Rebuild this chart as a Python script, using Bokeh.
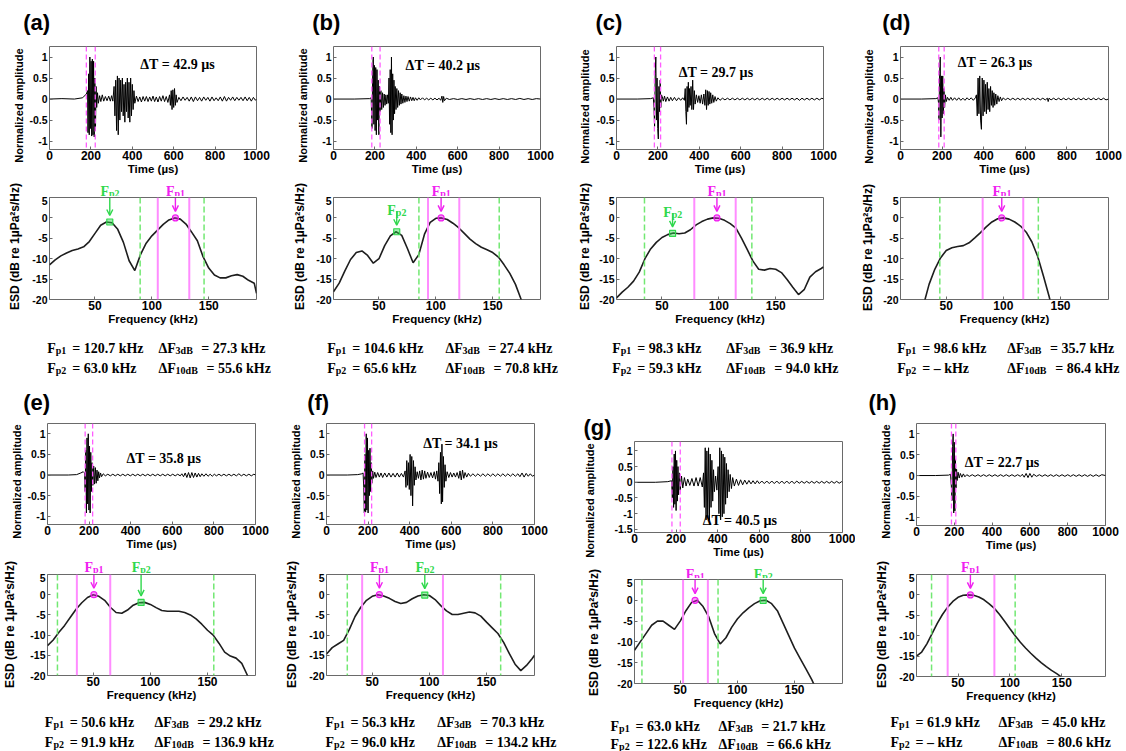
from bokeh.plotting import figure
from bokeh.layouts import row, column
from bokeh.models import Label, Arrow, OpenHead, Span, FixedTicker, Range1d
from bokeh.embed import file_html
from bokeh.resources import INLINE

SANS = "Liberation Sans"
SERIF = "Liberation Serif"
MAG = "#f020f0"
MAG_SPAN = "#ff8cff"
MAG_DASH = "#ff5cff"
GRN = "#2fd84c"
GRN_SPAN = "#72e872"
FRAME = "#6a6a6a"

# ---------------- data ----------------
TIME_TICKS = [0, 200, 400, 600, 800, 1000]
AMP_TICKS = [-1, -0.5, 0, 0.5, 1]
AMP_TICKS_G = [-1.5, -1, -0.5, 0, 0.5, 1]
FREQ_TICKS = [50, 100, 150]
ESD_TICKS = [-20, -15, -10, -5, 0, 5]

FREQ = [10, 15, 20, 25, 30, 35, 40, 45, 50, 55, 60, 65, 70, 75, 80, 85, 90, 95, 100,
        105, 110, 115, 120, 125, 130, 135, 140, 145, 150, 155, 160, 165, 170, 175, 180,
        185, 190, 192]

ESD_A = [-11.5, -10.3, -9.3, -8.6, -8.0, -7.6, -7.1, -5.8, -3.8, -1.8, -1.0, -1.2, -2.8,
         -6.0, -10.5, -12.9, -9.0, -6.2, -4.4, -3.0, -1.6, -0.5, 0.0, -0.3, -1.5, -3.5,
         -5.6, -9.5, -12.3, -14.0, -14.7, -14.7, -14.2, -13.9, -14.3, -15.3, -16.0, -18.5]
ESD_B = [-18.1, -16.0, -13.0, -10.2, -8.5, -8.1, -9.2, -11.1, -10.0, -6.8, -4.4, -3.4, -4.3,
         -7.5, -11.0, -9.0, -4.0, -1.1, -0.1, 0.0, -0.4, -1.3, -2.4, -3.8, -5.2, -6.3,
         -7.2, -7.8, -8.5, -9.6, -11.5, -13.6, -16.3, -20.0, -23.0, -26.0, -29.0, -30.0]
ESD_C = [-19.6, -18.2, -17.0, -15.5, -13.3, -10.0, -7.6, -6.0, -4.8, -4.1, -3.7, -3.9, -3.7,
         -2.9, -1.7, -0.9, -0.3, 0.0, -0.1, -0.6, -1.4, -2.5, -5.0, -7.8, -10.6, -12.6,
         -12.8, -12.4, -12.6, -13.4, -15.1, -17.0, -18.8, -17.6, -14.5, -13.2, -12.4, -12.0]
ESD_D = [-45.0, -38.0, -32.0, -27.0, -21.5, -16.3, -12.6, -9.8, -8.0, -7.3, -7.0, -6.8, -6.1,
         -4.9, -3.6, -2.2, -1.0, -0.2, 0.0, -0.3, -1.0, -2.0, -3.5, -5.9, -9.4, -14.2,
         -19.2, -25.0, -31.0, -37.0, -43.0, -48.0, -52.0, -55.0, -58.0, -60.0, -62.0, -63.0]
ESD_E = [-12.6, -11.2, -9.3, -7.6, -5.6, -3.6, -2.0, -0.7, 0.0, -0.4, -1.4, -3.1, -4.4,
         -4.6, -3.8, -2.6, -2.0, -1.9, -2.4, -3.2, -3.9, -4.1, -4.1, -4.1, -4.4, -5.0,
         -6.0, -7.3, -8.8, -10.0, -12.0, -14.2, -15.2, -15.7, -17.0, -20.0, -24.0, -26.0]
ESD_F = [-14.7, -13.1, -12.2, -11.3, -8.6, -5.4, -3.1, -1.4, -0.4, 0.0, -0.3, -0.9, -1.7,
         -2.2, -1.9, -1.0, -0.3, 0.0, -0.2, -1.2, -2.7, -4.0, -4.9, -4.9, -4.6, -4.3,
         -4.5, -5.3, -6.8, -8.2, -9.6, -11.8, -14.6, -17.2, -18.8, -17.5, -15.8, -15.0]
ESD_G = [-12.0, -10.0, -8.0, -6.0, -5.0, -5.0, -6.0, -7.0, -5.0, -2.5, -0.5, 0.0, -1.5,
         -4.0, -8.0, -10.5, -9.0, -6.5, -4.5, -3.0, -1.8, -0.8, -0.1, 0.0, -0.8, -2.5,
         -5.5, -8.5, -11.5, -14.0, -16.5, -19.0, -22.0, -25.0, -28.0, -31.0, -34.0, -35.0]
ESD_H = [-15.0, -14.0, -12.0, -9.5, -7.0, -4.8, -3.0, -1.6, -0.6, -0.1, 0.0, -0.1, -0.5,
         -1.2, -2.2, -3.3, -4.8, -6.5, -8.3, -10.0, -11.6, -13.0, -14.3, -15.5, -16.6,
         -17.6, -18.5, -19.3, -20.2, -21.0, -22.0, -23.0, -24.0, -25.0, -26.0, -27.0, -28.0, -28.5]

WAVE_A = [(0, 0), (60, 0.01), (120, 0), (160, 0.03), (178, 0.12), (184, 0.2), (186, -0.8), (189, 0.6),
          (192, -0.85), (195, 1.0), (198, -0.7), (201, 0.9), (204, -0.88), (207, 0.95), (210, -0.85),
          (213, 0.9), (216, -0.9), (219, 0.5), (222, -0.75), (225, 0.3), (228, -0.2), (232, 0.15),
          (236, -0.1), (242, 0.08), (248, -0.06), (255, 0.1), (262, -0.05), (270, 0.06), (278, -0.04),
          (286, 0.07), (294, -0.05), (300, 0.08), (306, -0.05), (312, 0.3), (316, -0.4), (320, 0.45),
          (324, -0.75), (328, 0.55), (332, -0.85), (336, 0.5), (340, -0.5), (344, 0.45), (348, -0.3),
          (352, 0.5), (356, -0.4), (360, 0.35), (364, -0.55), (368, 0.4), (372, -0.3), (376, 0.5),
          (380, -0.45), (384, 0.4), (388, -0.55), (392, 0.5), (396, -0.4), (400, 0.35), (404, -0.25),
          (408, 0.2), (412, -0.1), (420, 0.07), (428, -0.06), (436, 0.05), (444, -0.07), (452, 0.06),
          (460, -0.05), (468, 0.06), (476, -0.06), (484, 0.05), (492, -0.05), (500, 0.07), (508, -0.06),
          (516, 0.05), (524, -0.07), (532, 0.06), (540, -0.05), (548, 0.08), (556, -0.06), (564, 0.06),
          (572, -0.08), (580, 0.1), (584, -0.15), (588, 0.2), (592, -0.25), (596, 0.22), (600, -0.2),
          (604, 0.25), (608, -0.15), (612, 0.1), (616, -0.08), (625, 0.04), (635, -0.04), (645, 0.05),
          (655, -0.03), (665, 0.04), (675, -0.05), (685, 0.05), (695, -0.06), (705, 0.05), (715, -0.04),
          (725, 0.04), (735, -0.05), (745, 0.05), (755, -0.03), (765, 0.04), (775, -0.05), (785, 0.05),
          (795, -0.04), (805, 0.03), (815, -0.04), (825, 0.05), (835, -0.05), (845, 0.06), (855, -0.05),
          (865, 0.04), (875, -0.03), (885, 0.05), (895, -0.04), (905, 0.04), (915, -0.03), (925, 0.04),
          (935, -0.04), (945, 0.05), (955, -0.04), (965, 0.04), (975, -0.05), (985, 0.04), (995, -0.03),
          (1000, 0)]
WAVE_B = [(0, 0), (100, 0), (175, 0.01), (182, 0.03), (186, -0.7), (189, 0.5), (192, 1.0), (195, -0.6),
          (198, 0.8), (201, -0.75), (204, 0.75), (207, -0.85), (210, 0.7), (213, -0.5), (216, 0.45),
          (219, -0.85), (222, 0.3), (225, -0.3), (229, 0.2), (233, -0.25), (237, 0.15), (241, -0.2),
          (245, 0.12), (249, -0.15), (253, 0.1), (257, -0.12), (261, 0.1), (265, -0.1), (268, 0.5),
          (271, -0.6), (274, 0.7), (277, -0.8), (280, 1.0), (283, -0.85), (286, 0.6), (289, -0.5),
          (292, 0.45), (295, -0.35), (298, 0.3), (302, -0.25), (306, 0.25), (310, -0.2), (314, 0.2),
          (318, -0.15), (322, 0.15), (326, -0.12), (330, 0.12), (335, -0.1), (340, 0.08), (345, -0.08),
          (350, 0.07), (355, -0.06), (360, 0.06), (366, -0.05), (372, 0.05), (378, -0.04), (384, 0.04),
          (390, -0.04), (396, 0.03), (404, -0.03), (412, 0.03), (420, -0.02), (430, 0.03), (440, -0.02),
          (450, 0.02), (460, -0.02), (470, 0.02), (480, -0.02), (490, 0.02), (500, -0.02), (510, 0.02),
          (518, -0.03), (524, 0.07), (528, -0.08), (532, 0.06), (536, -0.04), (545, 0.02), (560, -0.01),
          (580, 0.01), (600, -0.01), (620, 0.01), (640, -0.01), (660, 0.01), (680, -0.01), (700, 0.01),
          (720, -0.01), (740, 0.01), (760, -0.01), (780, 0.01), (800, -0.01), (820, 0.01), (840, -0.01),
          (860, 0.01), (880, -0.01), (900, 0.015), (920, -0.01), (940, 0.01), (960, -0.01), (980, 0.01),
          (1000, 0)]
WAVE_C = [(0, 0), (100, 0), (165, 0.01), (178, 0.03), (181, -0.2), (184, -0.65), (187, 0.6), (190, 1.0),
          (193, -0.5), (196, 0.5), (199, -0.7), (202, -0.95), (205, 0.3), (208, -0.3), (211, 0.45),
          (214, -0.2), (217, 0.1), (221, 0.06), (226, -0.05), (232, 0.07), (238, -0.06), (246, 0.05),
          (254, -0.05), (262, 0.04), (270, -0.04), (280, 0.04), (290, -0.04), (300, 0.03), (310, -0.03),
          (320, 0.03), (328, -0.03), (332, 0.25), (335, -0.3), (338, -0.6), (341, 0.3), (344, -0.3),
          (347, 0.4), (350, -0.2), (353, 0.25), (356, -0.15), (360, 0.3), (364, -0.25), (368, 0.45),
          (372, -0.25), (376, 0.2), (380, -0.12), (386, 0.1), (392, -0.08), (398, 0.08), (404, -0.1),
          (410, 0.1), (416, -0.12), (422, 0.12), (427, -0.15), (431, 0.22), (435, -0.25), (439, 0.2),
          (443, -0.15), (447, 0.18), (451, -0.12), (455, 0.15), (460, -0.1), (465, 0.1), (470, -0.08),
          (476, 0.06), (482, -0.05), (490, 0.03), (500, -0.03), (512, 0.02), (524, -0.02), (536, 0.02),
          (548, -0.02), (560, 0.02), (572, -0.02), (584, 0.02), (596, -0.02), (608, 0.02), (620, -0.02),
          (632, 0.02), (644, -0.02), (656, 0.02), (668, -0.02), (680, 0.02), (692, -0.02), (704, 0.02),
          (716, -0.02), (728, 0.02), (740, -0.02), (752, 0.02), (764, -0.02), (776, 0.02), (788, -0.02),
          (800, 0.02), (812, -0.02), (824, 0.02), (836, -0.02), (848, 0.02), (860, -0.02), (872, 0.02),
          (884, -0.03), (896, 0.02), (908, -0.02), (920, 0.02), (932, -0.02), (944, 0.02), (956, -0.02),
          (968, 0.02), (980, -0.02), (992, 0.02), (1000, 0)]
WAVE_D = [(0, 0), (100, 0), (170, 0.01), (180, 0.03), (183, -0.1), (185, -0.5), (188, 0.6), (191, 1.0),
          (194, -0.9), (197, 0.55), (200, -0.45), (203, 0.55), (206, -0.35), (209, 0.25), (212, -0.2),
          (216, 0.1), (220, -0.06), (226, 0.04), (234, -0.03), (242, 0.04), (250, -0.03), (260, 0.03),
          (270, -0.03), (280, 0.03), (290, -0.03), (300, 0.02), (310, -0.03), (320, 0.03), (330, -0.02),
          (340, 0.03), (350, -0.03), (360, 0.03), (365, 0.1), (369, -0.4), (373, 0.5), (377, -0.35),
          (381, 0.55), (385, -0.5), (389, -0.72), (393, 0.5), (397, -0.4), (401, 0.45), (405, -0.3),
          (409, 0.35), (413, -0.35), (417, 0.4), (421, -0.25), (425, 0.25), (429, -0.3), (433, 0.3),
          (437, -0.15), (441, 0.2), (445, -0.2), (449, 0.15), (453, -0.15), (458, 0.12), (463, -0.12),
          (468, 0.08), (474, -0.06), (480, 0.05), (486, -0.04), (494, 0.03), (504, -0.02), (516, 0.02),
          (528, -0.02), (540, 0.02), (552, -0.02), (564, 0.02), (576, -0.02), (588, 0.02), (600, -0.02),
          (612, 0.02), (624, -0.02), (636, 0.02), (648, -0.02), (660, 0.02), (672, -0.02), (684, 0.02),
          (696, -0.02), (706, 0.02), (710, -0.06), (714, 0.02), (724, -0.02), (736, 0.02), (748, -0.02),
          (760, 0.02), (772, -0.02), (784, 0.02), (796, -0.02), (808, 0.02), (820, -0.02), (832, 0.02),
          (844, -0.02), (856, 0.02), (868, -0.02), (880, 0.02), (892, -0.02), (904, 0.02), (916, -0.02),
          (928, 0.02), (940, -0.02), (952, 0.02), (964, -0.02), (976, 0.02), (988, -0.02), (1000, 0)]
WAVE_E = [(0, 0), (100, 0), (140, 0.01), (160, 0.05), (172, 0.08), (178, 0.05), (181, -0.4), (184, 0.6),
          (187, -0.92), (190, 0.9), (193, -0.7), (196, 1.0), (199, -0.85), (202, 0.7), (205, -0.92),
          (208, 0.55), (211, -0.4), (214, 0.3), (218, -0.25), (222, 0.22), (226, -0.22), (230, 0.18),
          (234, -0.2), (238, 0.12), (242, -0.14), (246, 0.08), (250, -0.07), (255, 0.05), (260, -0.04),
          (268, 0.03), (278, -0.02), (290, 0.02), (302, -0.02), (314, 0.02), (326, -0.02), (338, 0.02),
          (350, -0.02), (362, 0.02), (374, -0.02), (386, 0.02), (398, -0.02), (410, 0.02), (422, -0.02),
          (434, 0.02), (446, -0.02), (458, 0.02), (470, -0.02), (482, 0.02), (494, -0.02), (506, 0.02),
          (518, -0.02), (530, 0.02), (542, -0.02), (554, 0.02), (566, -0.02), (578, 0.02), (590, -0.02),
          (602, 0.02), (614, -0.02), (626, 0.02), (638, -0.02), (646, 0.03), (654, -0.04), (662, 0.05),
          (670, -0.06), (678, 0.06), (686, -0.07), (694, 0.06), (702, -0.06), (710, 0.05), (718, -0.05),
          (726, 0.04), (734, -0.04), (742, 0.03), (752, -0.03), (762, 0.03), (772, -0.03), (782, 0.02),
          (792, -0.03), (802, 0.02), (812, -0.02), (824, 0.02), (836, -0.02), (848, 0.02), (860, -0.02),
          (872, 0.02), (884, -0.02), (896, 0.02), (908, -0.02), (920, 0.03), (932, -0.02), (944, 0.02),
          (956, -0.02), (968, 0.02), (980, -0.02), (992, 0.02), (1000, 0)]
WAVE_F = [(0, 0), (100, 0), (150, 0.01), (170, 0.03), (176, 0.05), (179, -0.3), (182, -0.92), (185, 0.5),
          (188, -0.9), (191, 1.0), (194, -0.85), (197, 0.9), (200, -0.92), (203, 0.6), (206, -0.5),
          (209, 0.65), (212, -0.4), (215, 0.3), (218, -0.2), (222, 0.1), (226, -0.08), (232, 0.07),
          (238, -0.06), (246, 0.06), (254, -0.05), (262, 0.05), (270, -0.06), (280, 0.05), (290, -0.05),
          (300, 0.05), (310, -0.05), (320, 0.04), (330, -0.05), (340, 0.05), (350, -0.05), (360, 0.04),
          (370, -0.05), (378, 0.1), (382, -0.3), (386, 0.35), (390, -0.25), (394, 0.3), (398, -0.35),
          (402, 0.5), (406, -0.5), (410, 0.45), (414, -0.75), (418, 0.35), (422, -0.25), (426, 0.2),
          (430, -0.12), (436, 0.08), (442, -0.08), (448, 0.1), (454, -0.12), (460, 0.12), (466, -0.1),
          (472, 0.1), (478, -0.08), (486, 0.07), (494, -0.06), (502, 0.06), (510, -0.07), (518, 0.08),
          (524, -0.1), (530, 0.1), (536, -0.15), (540, 0.3), (544, -0.45), (548, 0.55), (552, -0.7),
          (555, 0.75), (558, -0.65), (562, 0.45), (566, -0.3), (570, 0.25), (574, -0.15), (580, 0.08),
          (588, -0.06), (596, 0.06), (604, -0.05), (612, 0.05), (620, -0.05), (628, 0.06), (636, -0.08),
          (642, 0.1), (648, -0.12), (654, 0.12), (660, -0.08), (666, 0.06), (674, -0.05), (682, 0.04),
          (692, -0.03), (704, 0.03), (716, -0.03), (728, 0.03), (740, -0.03), (752, 0.03), (764, -0.03),
          (776, 0.03), (788, -0.03), (800, 0.03), (812, -0.03), (824, 0.03), (836, -0.03), (848, 0.03),
          (860, -0.03), (872, 0.03), (884, -0.03), (896, 0.03), (908, -0.03), (920, 0.03), (930, -0.04),
          (940, 0.05), (950, -0.05), (960, 0.04), (970, -0.03), (980, 0.03), (990, -0.03), (1000, 0)]
WAVE_G = [(0, 0), (100, 0), (160, 0.02), (178, 0.05), (182, -0.5), (185, 0.5), (188, -0.8), (191, 0.9),
          (194, -0.7), (197, 1.0), (200, -0.9), (203, 0.7), (206, -0.6), (209, 0.5), (212, -0.4),
          (216, 0.3), (220, -0.25), (226, 0.2), (232, -0.18), (240, 0.15), (248, -0.12), (256, 0.1),
          (266, -0.1), (276, 0.12), (286, -0.12), (296, 0.15), (306, -0.12), (316, 0.15), (326, -0.15),
          (332, 0.3), (336, -0.8), (340, 1.1), (344, -1.2), (348, 1.0), (352, -1.1), (356, 1.1),
          (360, -1.2), (364, 0.9), (368, -0.8), (372, 0.7), (376, -0.6), (380, 0.4), (384, -0.3),
          (390, 0.2), (396, -0.25), (402, 0.5), (406, -1.0), (410, 1.1), (414, -1.2), (418, 1.0),
          (422, -1.1), (426, 0.9), (430, -1.0), (434, 0.8), (438, -0.7), (442, 0.6), (446, -0.5),
          (450, 0.4), (455, -0.3), (460, 0.25), (466, -0.2), (472, 0.15), (480, -0.12), (490, 0.1),
          (500, -0.1), (510, 0.08), (520, -0.08), (530, 0.07), (540, -0.06), (550, 0.06), (560, -0.05),
          (570, 0.05), (580, -0.05), (590, 0.05), (600, -0.04), (612, 0.04), (624, -0.04), (636, 0.04),
          (648, -0.04), (660, 0.04), (672, -0.04), (684, 0.04), (696, -0.04), (708, 0.04), (720, -0.04),
          (732, 0.04), (744, -0.04), (756, 0.04), (768, -0.04), (780, 0.04), (792, -0.03), (804, 0.03),
          (816, -0.03), (828, 0.03), (840, -0.03), (852, 0.03), (864, -0.03), (876, 0.03), (888, -0.03),
          (900, 0.03), (912, -0.03), (924, 0.03), (936, -0.03), (948, 0.03), (960, -0.03), (972, 0.03),
          (984, -0.03), (996, 0.02), (1000, 0)]
WAVE_H = [(0, 0), (100, 0), (170, 0.01), (180, 0.03), (185, -0.3), (188, -0.6), (191, 0.7), (194, 1.0),
          (197, -0.9), (200, 0.8), (203, -0.85), (206, 0.4), (209, -0.3), (212, 0.15), (215, -0.12),
          (220, 0.08), (226, -0.06), (232, 0.05), (240, -0.04), (248, 0.04), (256, -0.03), (266, 0.02),
          (280, -0.02), (295, 0.02), (310, -0.02), (325, 0.02), (340, -0.02), (355, 0.02), (370, -0.02),
          (385, 0.02), (400, -0.02), (415, 0.02), (430, -0.02), (445, 0.02), (460, -0.02), (475, 0.02),
          (490, -0.02), (505, 0.02), (520, -0.02), (535, 0.02), (550, -0.02), (560, 0.03), (570, -0.04),
          (580, 0.05), (590, -0.05), (600, 0.05), (610, -0.04), (620, 0.03), (635, -0.02), (650, 0.02),
          (665, -0.02), (680, 0.02), (695, -0.02), (710, 0.02), (725, -0.02), (740, 0.02), (755, -0.02),
          (770, 0.02), (785, -0.02), (800, 0.02), (815, -0.02), (830, 0.02), (845, -0.02), (860, 0.02),
          (875, -0.02), (890, 0.02), (905, -0.02), (920, 0.02), (935, -0.02), (950, 0.02), (965, -0.02),
          (980, 0.02), (1000, 0)]

ESD = {"a": ESD_A, "b": ESD_B, "c": ESD_C, "d": ESD_D, "e": ESD_E, "f": ESD_F, "g": ESD_G, "h": ESD_H}
WAVE = {"a": WAVE_A, "b": WAVE_B, "c": WAVE_C, "d": WAVE_D, "e": WAVE_E, "f": WAVE_F, "g": WAVE_G, "h": WAVE_H}

FP1 = {"a": (120.7, 0.0), "b": (104.6, 0.0), "c": (98.3, 0.0), "d": (98.6, 0.0),
       "e": (50.6, 0.0), "f": (56.3, 0.0), "g": (63.0, 0.0), "h": (61.9, 0.0)}
FP2 = {"a": (63.0, -1.0), "b": (65.6, -3.4), "c": (59.3, -3.8), "d": None,
       "e": (91.9, -1.9), "f": (96.0, -0.1), "g": (122.6, 0.0), "h": None}
BW3_LINES = {"a": (105.2, 132.9), "b": (93.1, 120.6), "c": (78.4, 114.8), "d": (81.9, 117.4),
             "e": (35.7, 64.9), "f": (41.2, 111.9), "g": (52.5, 74.2), "h": (40.0, 85.0)}
BW10_LINES = {"a": (89.7, 145.9), "b": (85.1, 155.7), "c": (34.6, 129.0), "d": (44.4, 130.6),
              "e": (18.7, 155.5), "f": (28.2, 162.4), "g": (16.5, 83.1), "h": (24.5, 105.0)}
DT_LINES = {"a": (178, 221), "b": (185, 225), "c": (183, 213), "d": (184, 210),
            "e": (181, 217), "f": (183, 217), "g": (180, 220), "h": (185, 208)}
TXT_DT = {"a": "42.9", "b": "40.2", "c": "29.7", "d": "26.3", "e": "35.8", "f": "34.1", "g": "40.5", "h": "22.7"}
TXT_FP1 = {"a": "120.7", "b": "104.6", "c": "98.3", "d": "98.6", "e": "50.6", "f": "56.3", "g": "63.0", "h": "61.9"}
TXT_FP2 = {"a": "63.0", "b": "65.6", "c": "59.3", "d": "\u2013", "e": "91.9", "f": "96.0", "g": "122.6", "h": "\u2013"}
TXT_3DB = {"a": "27.3", "b": "27.4", "c": "36.9", "d": "35.7", "e": "29.2", "f": "70.3", "g": "21.7", "h": "45.0"}
TXT_10DB = {"a": "55.6", "b": "70.8", "c": "94.0", "d": "86.4", "e": "136.9", "f": "134.2", "g": "66.6", "h": "80.6"}

# ---------------- layout (screen pixels, page origin at top-left) ----------------
COLS = {"a": (0, 280), "b": (280, 280), "c": (560, 280), "d": (840, 286),
        "e": (0, 280), "f": (280, 280), "g": (560, 295), "h": (855, 271)}
# column bands: top, tag-strip end, wave-fig end, peak-strip end, esd-fig end, bottom
BANDS = {"a": (0, 38, 178, 196, 330, 376), "b": (0, 38, 178, 196, 330, 376),
         "c": (0, 38, 178, 196, 330, 376), "d": (0, 38, 178, 196, 330, 376),
         "e": (376, 417, 554, 573, 706, 751), "f": (376, 417, 554, 573, 706, 751),
         "g": (376, 440, 561, 578, 713, 751), "h": (376, 417, 554, 573, 706, 751)}
FRAME_X = {"a": (46, 256), "b": (330, 540), "c": (613, 823), "d": (897, 1108),
           "e": (44, 255), "f": (323, 534), "g": (631, 842), "h": (913, 1105)}
WAVE_Y = {"a": (46, 149), "b": (46, 149), "c": (46, 149), "d": (46, 149),
          "e": (423, 524), "f": (423, 524), "g": (441, 532), "h": (423, 525)}
ESD_Y = {"a": (197, 299), "b": (197, 299), "c": (197, 299), "d": (197, 299),
         "e": (574, 675), "f": (574, 675), "g": (579, 683), "h": (574, 676)}
WAVE_YR = {k: (-1.2, 1.25) for k in "abcdefh"}
WAVE_YR["g"] = (-1.6, 1.3)
TAG_XY = {"a": (22.7, 22), "b": (311.7, 22), "c": (595, 22), "d": (881.7, 22),
          "e": (22.7, 402), "f": (306.7, 402), "g": (583, 427), "h": (868, 402)}
DT_XY = {"a": (176, 64), "b": (441, 65), "c": (714, 72), "d": (993, 62),
         "e": (162, 458), "f": (459, 443), "g": (738, 520), "h": (1000, 462)}
LINE_X = {"a": (46.7, 158), "b": (326.7, 445), "c": (611.7, 725.7), "d": (896.7, 1006.7),
          "e": (44.3, 154), "f": (325, 436.7), "g": (610, 718), "h": (890, 998)}
LINE_Y = {"a": (343, 363), "b": (343, 363), "c": (343, 363), "d": (343, 363),
          "e": (717, 737), "f": (717, 737), "g": (721, 739), "h": (717, 737)}
# y-axis title centres (screen px): wave (x, y), esd (x, y)
YLAB_XY = {"a": ((18, 105), (14, 246)), "b": ((302, 105), (299, 246)),
           "c": ((584, 106), (584, 246)), "d": ((868, 106), (867, 247)),
           "e": ((16, 481), (9, 624)), "f": ((295, 481), (291, 624)),
           "g": ((589, 500), (593, 632)), "h": ((885, 481), (881, 624))}
# vertical centre (screen px) of each peak caption
FPLAB_Y = {"a": (186.5, 186.5), "b": (186.5, 205), "c": (186.5, 207), "d": (186.5, None),
           "e": (562.5, 562.5), "f": (562.5, 562.5), "g": (569.5, 569.5), "h": (562.5, None)}
FX = (10, 192)
FY = (-20, 5)


def fmt(t):
    return "%g" % t


def make_conv(L, R, T, B, xr, yr):
    def conv(sx, sy):
        return (xr[0] + (sx - L) * (xr[1] - xr[0]) / (R - L),
                yr[1] - (sy - T) * (yr[1] - yr[0]) / (B - T))
    return conv


def ident(sx, sy):
    return sx, sy


def new_fig(x0, x1, top, bottom, L, R, T, B, xr, yr):
    p = figure(width=x1 - x0, height=bottom - top, x_range=Range1d(*xr), y_range=Range1d(*yr),
               output_backend="svg", toolbar_location=None,
               min_border_left=L - x0, min_border_right=x1 - R,
               min_border_top=T - top, min_border_bottom=bottom - B)
    p.xgrid.visible = False
    p.ygrid.visible = False
    p.outline_line_color = FRAME
    p.outline_line_width = 1
    p.background_fill_color = "white"
    p.border_fill_color = "white"
    return p


def strip(x0, x1, top, bottom, xr=None, bl=0, br=0):
    p = figure(width=x1 - x0, height=bottom - top,
               x_range=Range1d(*(xr if xr else (x0, x1))), y_range=Range1d(bottom, top),
               x_axis_type=None, y_axis_type=None, min_border_left=bl, min_border_right=br,
               min_border_top=0, min_border_bottom=0,
               output_backend="svg", toolbar_location=None)
    p.outline_line_color = None
    p.background_fill_color = "white"
    p.border_fill_color = "white"
    return p


def style_axes(p, xticks, yticks, xlabel):
    p.xaxis.ticker = FixedTicker(ticks=xticks)
    p.yaxis.ticker = FixedTicker(ticks=yticks)
    p.xaxis.major_label_overrides = {t: fmt(t) for t in xticks}
    p.yaxis.major_label_overrides = {t: fmt(t) for t in yticks}
    p.xaxis.axis_label = xlabel
    for ax in list(p.xaxis) + list(p.yaxis):
        ax.axis_line_color = None
        ax.major_tick_in = 3
        ax.major_tick_out = 0
        ax.major_tick_line_color = FRAME
        ax.minor_tick_line_color = None
        ax.major_label_text_font = SANS
        ax.major_label_text_font_style = "bold"
        ax.major_label_text_color = "black"
        ax.axis_label_text_font = SANS
        ax.axis_label_text_font_style = "bold"
        ax.axis_label_text_font_size = "11.5px"
        ax.axis_label_text_color = "black"
    p.xaxis.major_label_text_font_size = "12px"
    p.yaxis.major_label_text_font_size = "10.5px"
    p.xaxis.major_label_standoff = 1
    p.xaxis.axis_label_standoff = 0
    p.yaxis.major_label_standoff = 2


def label(p, x, y, text, size, color="black", font=SERIF, align="left",
          baseline="alphabetic", angle=0):
    p.add_layout(Label(x=x, y=y, text=text, text_font=font, angle=angle, angle_units="deg",
                       text_font_size="%gpx" % size, text_font_style="bold",
                       text_color=color, text_align=align, text_baseline=baseline))


def rich(p, conv, sx, sy, head, sub, subx, tail="", tailx=0, color="black"):
    # sy = vertical centre of the text line (screen px)
    base = sy + 4.5
    x, y = conv(sx, base)
    label(p, x, y, head, 14, color)
    x, y = conv(sx + subx, base + 2.0)
    label(p, x, y, sub, 10, color)
    if tail:
        x, y = conv(sx + tailx, base)
        label(p, x, y, tail, 14, color)


def peak(pe, ps, econv, sconv, L, R, T, fp, name, color, marker, lab_y):
    f, v = fp
    px = L + (f - FX[0]) * (R - L) / (FX[1] - FX[0])
    if lab_y < T:
        rich(ps, sconv, px - 9.5, lab_y, "F", name, 8.6, color=color)
        y_start = 4.9
    else:
        rich(pe, econv, px - 9.5, lab_y, "F", name, 8.6, color=color)
        y_start = v + 5.0
    pe.add_layout(Arrow(end=OpenHead(size=6, line_color=color, line_width=1.4),
                        x_start=f, y_start=y_start, x_end=f, y_end=v + 1.6,
                        line_color=color, line_width=1.4))
    pe.scatter([f], [v], marker=marker, size=6, line_color=color, fill_color=color,
               fill_alpha=0.45, line_width=1.2)


def panel(k):
    colx, colw = COLS[k]
    right = colx + colw
    top, tag_end, wave_end, pk_end, esd_end, bottom = BANDS[k]
    L, R = FRAME_X[k]
    wT, wB = WAVE_Y[k]
    eT, eB = ESD_Y[k]
    sr = L - 20
    wyr = WAVE_YR[k]
    wxr = (0, 1000)
    (wlx, wly), (elx, ely) = YLAB_XY[k]

    # ---- tag strip ----
    pt = strip(colx, right, top, tag_end)
    label(pt, TAG_XY[k][0], TAG_XY[k][1], "(%s)" % k, 22, font=SANS, baseline="middle")

    # ---- y-axis titles strip ----
    ls = strip(colx, sr, tag_end, esd_end)
    label(ls, wlx, wly, "Normalized amplitude", 11, font=SANS, align="center",
          baseline="middle", angle=90)
    label(ls, elx, ely, "ESD (dB re 1\u00b5Pa\u00b2s/Hz)", 12, font=SANS, align="center",
          baseline="middle", angle=90)

    # ---- waveform ----
    pw = new_fig(sr, right, tag_end, wave_end, L, R, wT, wB, wxr, wyr)
    style_axes(pw, TIME_TICKS, AMP_TICKS_G if k == "g" else AMP_TICKS, "Time (\u00b5s)")
    t = [pt_[0] for pt_ in WAVE[k]]
    v = [pt_[1] for pt_ in WAVE[k]]
    pw.line(t, v, line_color="black", line_width=1)
    for loc in DT_LINES[k]:
        pw.add_layout(Span(location=loc, dimension="height", line_color=MAG_DASH,
                           line_width=1.3, line_dash="5 3"))
    wconv = make_conv(L, R, wT, wB, wxr, wyr)
    x, y = wconv(*DT_XY[k])
    label(pw, x, y, "\u0394T = %s \u00b5s" % TXT_DT[k], 14, baseline="middle", align="center")

    # ---- peak caption strip (same horizontal frame as ESD) ----
    ps = strip(sr, right, wave_end, pk_end, xr=FX, bl=L - sr, br=right - R)
    sconv = make_conv(L, R, wave_end, pk_end, FX, (pk_end, wave_end))

    # ---- ESD ----
    pe = new_fig(sr, right, pk_end, esd_end, L, R, eT, eB, FX, FY)
    style_axes(pe, FREQ_TICKS, ESD_TICKS, "Frequency (kHz)")
    for loc in BW10_LINES[k]:
        pe.add_layout(Span(location=loc, dimension="height", line_color=GRN_SPAN,
                           line_width=1.5, line_dash="6 3"))
    for loc in BW3_LINES[k]:
        pe.add_layout(Span(location=loc, dimension="height", line_color=MAG_SPAN,
                           line_width=2))
    pe.line(FREQ, ESD[k], line_color="#1e1e1e", line_width=1.6)
    econv = make_conv(L, R, eT, eB, FX, FY)
    peak(pe, ps, econv, sconv, L, R, eT, FP1[k], "p1", MAG, "circle", FPLAB_Y[k][0])
    if FP2[k] is not None:
        peak(pe, ps, econv, sconv, L, R, eT, FP2[k], "p2", GRN, "square", FPLAB_Y[k][1])

    # ---- parameter text strip ----
    pb = strip(colx, right, esd_end, bottom)
    x1, x2 = LINE_X[k]
    y1, y2 = LINE_Y[k]
    rich(pb, ident, x1, y1, "F", "p1", 8.6, "= %s kHz" % TXT_FP1[k], 25)
    rich(pb, ident, x1, y2, "F", "p2", 8.6, "= %s kHz" % TXT_FP2[k], 25)
    rich(pb, ident, x2, y1, "\u0394F", "3dB", 17.1, "= %s kHz" % TXT_3DB[k], 42.7)
    rich(pb, ident, x2, y2, "\u0394F", "10dB", 17.1, "= %s kHz" % TXT_10DB[k], 48)
    return column(pt, row(ls, column(pw, ps, pe, spacing=0), spacing=0), pb, spacing=0)


row1 = row([panel(k) for k in "abcd"], spacing=0)
row2 = row([panel(k) for k in "efgh"], spacing=0)
page = column(row1, row2, spacing=0)

open("out.html", "w").write(file_html(page, INLINE))
